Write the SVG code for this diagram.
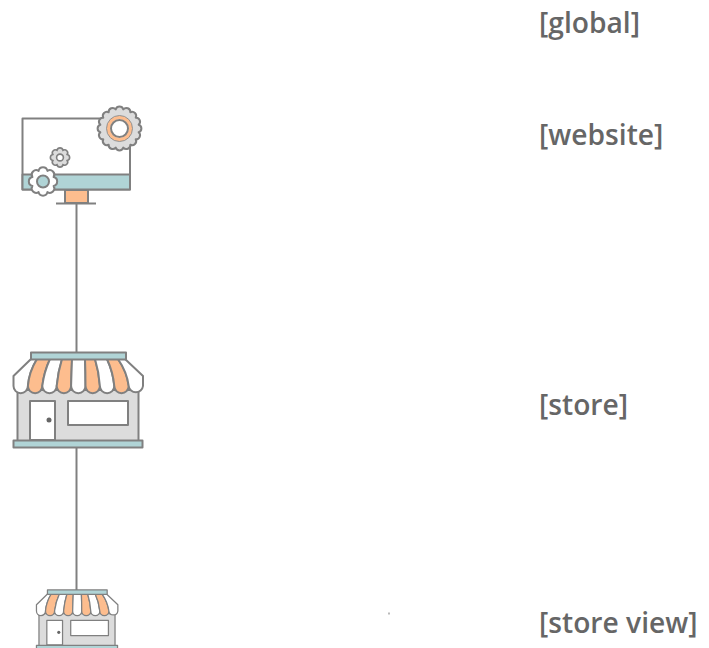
<svg xmlns="http://www.w3.org/2000/svg" width="709" height="648" viewBox="0 0 709 648">
<style>
.l{font-family:"Open Sans","Liberation Sans",sans-serif;font-weight:600;font-size:28.200px;fill:#666}
.s{stroke:#808080;stroke-width:2;stroke-linejoin:round}
.t{fill:#b0d4d6}.p{fill:#fdbd8e}.w{fill:#fff}.g{fill:#dcdcdc}
.c{stroke:#808080;stroke-width:2;fill:none}
</style>
<defs>
<path id="cog8" d="M10.600 4.400A4.500 4.500 0 0 1 4.400 10.600A4.500 4.500 0 0 1 -4.400 10.600A4.500 4.500 0 0 1 -10.600 4.400A4.500 4.500 0 0 1 -10.600 -4.400A4.500 4.500 0 0 1 -4.400 -10.600A4.500 4.500 0 0 1 4.400 -10.600A4.500 4.500 0 0 1 10.600 -4.400A4.500 4.500 0 0 1 10.600 4.400Z"/>
<path id="cog16" d="M19.130 3.800A4 4 0 0 1 16.210 10.830A4 4 0 0 1 10.830 16.210A4 4 0 0 1 3.800 19.130A4 4 0 0 1 -3.800 19.130A4 4 0 0 1 -10.830 16.210A4 4 0 0 1 -16.210 10.830A4 4 0 0 1 -19.130 3.800A4 4 0 0 1 -19.130 -3.800A4 4 0 0 1 -16.210 -10.830A4 4 0 0 1 -10.830 -16.210A4 4 0 0 1 -3.800 -19.130A4 4 0 0 1 3.800 -19.130A4 4 0 0 1 10.830 -16.210A4 4 0 0 1 16.210 -10.830A4 4 0 0 1 19.130 -3.800A4 4 0 0 1 19.130 3.800Z"/>
<symbol id="shop" viewBox="0 0 132 98" overflow="visible">
<g transform="translate(-12,-351)">
<rect class="g s" x="17.500" y="390" width="121" height="51"/>
<rect class="w s" x="30" y="401" width="25" height="39"/>
<rect class="w s" x="68" y="401" width="60" height="24"/>
<circle cx="49" cy="420" r="2.500" fill="#666"/>
<path class="w s" d="M31 359L13.500 376V386A7.200 7.200 0 0 0 27.900 386Q29 372 37 359Z"/>
<path class="p s" d="M37 359Q29 372 27.900 386A7.200 7.200 0 0 0 42.300 386Q44 372 50 359Z"/>
<path class="w s" d="M50 359Q44 372 42.300 386A7.200 7.200 0 0 0 56.700 386Q58 372 62 359Z"/>
<path class="p s" d="M62 359Q58 372 56.700 386A7.200 7.200 0 0 0 71.100 386Q71.500 372 72 359Z"/>
<path class="w s" d="M72 359Q71.500 372 71.100 386A7.200 7.200 0 0 0 85.500 386Q85.500 372 85 359Z"/>
<path class="p s" d="M85 359Q85.500 372 85.500 386A7.200 7.200 0 0 0 99.900 386Q99 372 95 359Z"/>
<path class="w s" d="M95 359Q99 372 99.900 386A7.200 7.200 0 0 0 114.300 386Q113 372 107 359Z"/>
<path class="p s" d="M107 359Q113 372 114.300 386A7.200 7.200 0 0 0 128.700 386Q127 372 118 359Z"/>
<path class="w s" d="M118 359Q127 372 128.700 386A7.200 7.200 0 0 0 143 386V376L125 359Z"/>
<rect class="t s" x="31" y="352.500" width="95" height="7"/>
<rect class="t s" x="13.500" y="440.500" width="129" height="7"/>
</g>
</symbol>
</defs>
<g id="connectors">
<line class="c" x1="76.500" y1="203" x2="76.500" y2="352"/>
<line class="c" x1="76.500" y1="448" x2="76.500" y2="590"/>
</g>
<g id="website">
<rect class="w s" x="22.500" y="118.500" width="107.500" height="71"/>
<rect class="t s" x="22.500" y="174.500" width="107.500" height="15"/>
<rect class="p s" x="65" y="190" width="23" height="13"/>
<line class="c" x1="56" y1="203.500" x2="96" y2="203.500"/>
<g id="gear-large">
<use href="#cog16" x="119.500" y="128.500" class="g s"/>
<circle cx="119.500" cy="128.500" r="11" class="w" stroke="#fdbd8e" stroke-width="3.500"/>
<circle cx="119.500" cy="128.500" r="8.500" class="w s"/>
<circle cx="119.500" cy="128.500" r="13" fill="none" stroke="#808080" stroke-width="0.800"/>
</g>
<g id="gear-mid" transform="translate(60,157.500) scale(.68)">
<use href="#cog8" class="g" stroke="#808080" stroke-width="2.400"/>
<circle r="5" class="w" stroke="#808080" stroke-width="2.400"/>
</g>
<g id="gear-small" transform="translate(43,181.500)">
<use href="#cog8" class="w s"/>
<circle r="6" class="t s"/>
</g>
</g>
<g id="store"><use href="#shop" x="12" y="351" width="132" height="98"/></g>
<g id="store-view"><use href="#shop" x="35.500" y="589" width="83" height="61.600"/></g>
<rect x="388.500" y="612.500" width="1" height="2" fill="#777"/>
<text class="l" x="539" y="33">[global]</text>
<text class="l" x="539" y="145">[website]</text>
<text class="l" x="539" y="415">[store]</text>
<text class="l" x="539" y="633">[store view]</text>
</svg>
